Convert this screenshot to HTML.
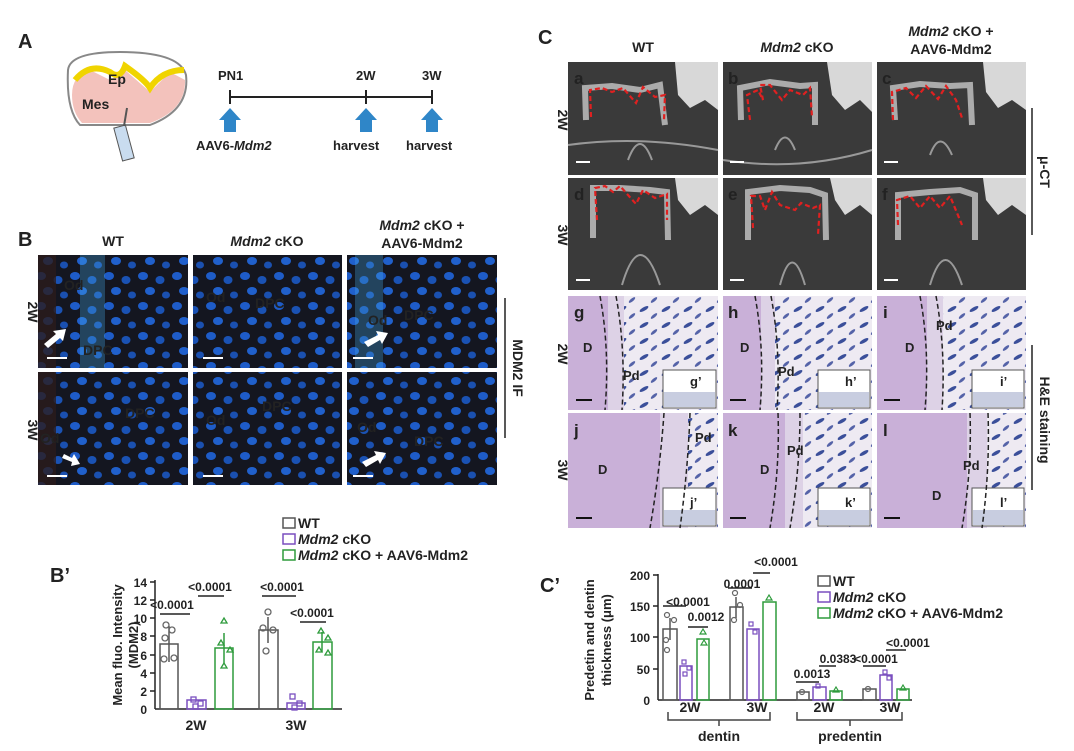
<!DOCTYPE html>
<html><head><meta charset="utf-8"><style>
body{margin:0;background:#fff;width:1074px;height:751px;overflow:hidden}
svg{position:absolute;left:0;top:0}
text{font-family:"Liberation Sans",Arial,sans-serif;font-weight:bold;fill:#222}
</style></head><body>
<svg width="1074" height="751" viewBox="0 0 1074 751">
<defs>
<pattern id="cells" width="34" height="30" patternUnits="userSpaceOnUse">
<rect width="34" height="30" fill="#141620"/>
<ellipse cx="7" cy="6" rx="5" ry="4" fill="#1e5cc8"/><ellipse cx="24" cy="10" rx="4.5" ry="4" fill="#1a52b4"/><ellipse cx="14" cy="21" rx="5" ry="4" fill="#2060cc"/><ellipse cx="30" cy="25" rx="4" ry="3.5" fill="#1a50b0"/>
</pattern>
<pattern id="he" width="22" height="16" patternUnits="userSpaceOnUse"><rect width="22" height="16" fill="#eeeaf2"/><ellipse cx="6" cy="5" rx="5" ry="1.8" fill="#3b4f9a" transform="rotate(-30 6 5)"/><ellipse cx="16" cy="12" rx="4" ry="1.5" fill="#5563a8" transform="rotate(-40 16 12)"/></pattern>
</defs>

<!-- Panel A -->
<text x="18" y="48" font-size="20">A</text>
<path d="M68 70 Q70 52 120 52 Q180 52 186 75 Q190 110 150 125 L80 125 Q66 110 68 70Z" fill="#fff" stroke="#888" stroke-width="2"/>
<path d="M72 95 Q72 75 90 70 L110 80 L125 70 L150 92 L170 72 L185 80 Q186 110 150 123 L82 123 Q72 112 72 95Z" fill="#f3c2bc"/>
<path d="M75 80 Q90 62 110 72 Q120 80 125 66 Q145 80 150 88 Q162 70 184 70" fill="none" stroke="#f0d400" stroke-width="6"/>
<text x="108" y="84" font-size="14">Ep</text><text x="82" y="109" font-size="14">Mes</text>
<rect x="118" y="126" width="12" height="34" fill="#c9dcef" stroke="#555" transform="rotate(-15 124 143)"/>
<line x1="127" y1="108" x2="124" y2="126" stroke="#555" stroke-width="2"/>
<line x1="230" y1="97" x2="432" y2="97" stroke="#222" stroke-width="2"/>
<line x1="230" y1="90" x2="230" y2="104" stroke="#222" stroke-width="2"/><line x1="366" y1="90" x2="366" y2="104" stroke="#222" stroke-width="2"/><line x1="432" y1="90" x2="432" y2="104" stroke="#222" stroke-width="2"/>
<text x="218" y="80" font-size="13">PN1</text><text x="356" y="80" font-size="13">2W</text><text x="422" y="80" font-size="13">3W</text>
<g fill="#2f86c8"><path d="M224 132 L224 120 L219 120 L230 108 L241 120 L236 120 L236 132Z"/><path d="M360 132 L360 120 L355 120 L366 108 L377 120 L372 120 L372 132Z"/><path d="M426 132 L426 120 L421 120 L432 108 L443 120 L438 120 L438 132Z"/></g>
<text x="196" y="150" font-size="13">AAV6-<tspan font-style="italic">Mdm2</tspan></text>
<text x="333" y="150" font-size="13">harvest</text><text x="406" y="150" font-size="13">harvest</text>

<!-- Panel B -->
<text x="18" y="246" font-size="20">B</text>
<text x="113" y="246" font-size="14" text-anchor="middle">WT</text>
<text x="267" y="246" font-size="14" text-anchor="middle"><tspan font-style="italic">Mdm2</tspan> cKO</text>
<text x="422" y="230" font-size="14" text-anchor="middle"><tspan font-style="italic">Mdm2</tspan> cKO +</text>
<text x="422" y="248" font-size="14" text-anchor="middle">AAV6-Mdm2</text>
<g>
<rect x="38" y="255" width="150" height="113" fill="url(#cells)"/><rect x="193" y="255" width="149" height="113" fill="url(#cells)"/><rect x="347" y="255" width="150" height="113" fill="url(#cells)"/>
<rect x="38" y="372" width="150" height="113" fill="url(#cells)"/><rect x="193" y="372" width="149" height="113" fill="url(#cells)"/><rect x="347" y="372" width="150" height="113" fill="url(#cells)"/>
<rect x="38" y="255" width="18" height="113" fill="#2a1c1c" opacity=".8"/><rect x="38" y="372" width="18" height="113" fill="#2a1c1c" opacity=".8"/>
<rect x="80" y="255" width="25" height="113" fill="#4ab0f0" opacity=".3"/><rect x="355" y="255" width="28" height="113" fill="#4ab0f0" opacity=".3"/>
</g>
<g fill="#fff" font-size="14">
<text x="64" y="290">Od</text><text x="83" y="355">DPC</text><text x="206" y="302">Od</text><text x="255" y="308">DPC</text><text x="368" y="325">Od</text><text x="404" y="320">DPC</text>
<text x="125" y="418">DPC</text><text x="40" y="443">Od</text><text x="262" y="411">DPC</text><text x="206" y="425">Od</text><text x="357" y="432">Od</text><text x="414" y="446">DPC</text>
</g>
<g fill="#fff"><path d="M44 344 L56 334 L53 331 L66 329 L63 341 L60 338 L48 348Z"/><path d="M364 342 L378 335 L376 331 L388 333 L382 344 L380 340 L368 347Z"/><path d="M62 458 L72 462 L71 466 L80 464 L74 454 L72 458 L64 454Z"/><path d="M362 462 L376 455 L374 451 L386 453 L380 464 L378 460 L366 467Z"/></g>
<g stroke="#fff" stroke-width="2"><line x1="47" y1="358" x2="67" y2="358"/><line x1="203" y1="358" x2="223" y2="358"/><line x1="353" y1="358" x2="373" y2="358"/><line x1="47" y1="476" x2="67" y2="476"/><line x1="203" y1="476" x2="223" y2="476"/><line x1="353" y1="476" x2="373" y2="476"/></g>
<text x="28" y="312" font-size="14" transform="rotate(90 28 312)" text-anchor="middle">2W</text>
<text x="28" y="430" font-size="14" transform="rotate(90 28 430)" text-anchor="middle">3W</text>
<line x1="505" y1="298" x2="505" y2="438" stroke="#222" stroke-width="1.5"/>
<text x="513" y="368" font-size="14" transform="rotate(90 513 368)" text-anchor="middle">MDM2 IF</text>

<!-- Panel B' chart -->
<text x="50" y="582" font-size="20">B’</text>
<g font-size="14"><rect x="283" y="518" width="12" height="10" fill="none" stroke="#555" stroke-width="1.5"/><text x="298" y="528">WT</text>
<rect x="283" y="534" width="12" height="10" fill="none" stroke="#7a4fbf" stroke-width="1.5"/><text x="298" y="544"><tspan font-style="italic">Mdm2</tspan> cKO</text>
<rect x="283" y="550" width="12" height="10" fill="none" stroke="#2e9b3c" stroke-width="1.5"/><text x="298" y="560"><tspan font-style="italic">Mdm2</tspan> cKO + AAV6-Mdm2</text></g>
<g stroke="#222" stroke-width="1.5" fill="none"><line x1="155" y1="580" x2="155" y2="709"/><line x1="155" y1="709" x2="342" y2="709"/>
<line x1="150" y1="582" x2="155" y2="582"/><line x1="150" y1="600" x2="155" y2="600"/><line x1="150" y1="618" x2="155" y2="618"/><line x1="150" y1="636" x2="155" y2="636"/><line x1="150" y1="655" x2="155" y2="655"/><line x1="150" y1="673" x2="155" y2="673"/><line x1="150" y1="691" x2="155" y2="691"/></g>
<g font-size="12" text-anchor="end"><text x="147" y="587">14</text><text x="147" y="605">12</text><text x="147" y="623">10</text><text x="147" y="641">8</text><text x="147" y="660">6</text><text x="147" y="678">4</text><text x="147" y="696">2</text><text x="147" y="714">0</text></g>
<text x="122" y="645" font-size="13" text-anchor="middle" transform="rotate(-90 122 645)">Mean fluo. Intensity</text>
<text x="138" y="645" font-size="13" text-anchor="middle" transform="rotate(-90 138 645)">(MDM2)</text>
<g stroke-width="1.5" fill="none">
<rect x="160" y="644" width="18" height="65" stroke="#555"/><rect x="187" y="700" width="19" height="9" stroke="#7a4fbf"/><rect x="215" y="648" width="18" height="61" stroke="#2e9b3c"/>
<rect x="259" y="630" width="19" height="79" stroke="#555"/><rect x="287" y="703" width="18" height="6" stroke="#7a4fbf"/><rect x="313" y="642" width="19" height="67" stroke="#2e9b3c"/>
<line x1="169" y1="626" x2="169" y2="662" stroke="#555"/><line x1="224" y1="633" x2="224" y2="663" stroke="#2e9b3c"/><line x1="268" y1="617" x2="268" y2="643" stroke="#555"/><line x1="322" y1="632" x2="322" y2="652" stroke="#2e9b3c"/>
<line x1="160" y1="614" x2="190" y2="614" stroke="#222"/><line x1="198" y1="596" x2="224" y2="596" stroke="#222"/><line x1="262" y1="596" x2="296" y2="596" stroke="#222"/><line x1="300" y1="622" x2="326" y2="622" stroke="#222"/>
</g>
<g fill="none" stroke-width="1.3">
<g stroke="#666"><circle cx="166" cy="625" r="3"/><circle cx="172" cy="630" r="3"/><circle cx="165" cy="638" r="3"/><circle cx="174" cy="658" r="3"/><circle cx="164" cy="659" r="3"/><circle cx="268" cy="612" r="3"/><circle cx="263" cy="628" r="3"/><circle cx="273" cy="630" r="3"/><circle cx="266" cy="651" r="3"/></g>
<g stroke="#7a4fbf"><rect x="191" y="697" width="5" height="5"/><rect x="198" y="701" width="5" height="5"/><rect x="193" y="704" width="5" height="5"/><rect x="290" y="694" width="5" height="5"/><rect x="297" y="701" width="5" height="5"/><rect x="292" y="705" width="5" height="5"/></g>
<g stroke="#2e9b3c"><path d="M221 623 l3 -5 l3 5z"/><path d="M218 645 l3 -5 l3 5z"/><path d="M227 652 l3 -5 l3 5z"/><path d="M221 668 l3 -5 l3 5z"/><path d="M318 633 l3 -5 l3 5z"/><path d="M325 640 l3 -5 l3 5z"/><path d="M316 652 l3 -5 l3 5z"/><path d="M325 655 l3 -5 l3 5z"/></g>
</g>
<g font-size="12" text-anchor="middle"><text x="172" y="609">&lt;0.0001</text><text x="210" y="591">&lt;0.0001</text><text x="282" y="591">&lt;0.0001</text><text x="312" y="617">&lt;0.0001</text></g>
<g font-size="14" text-anchor="middle"><text x="196" y="730">2W</text><text x="296" y="730">3W</text></g>

<!-- Panel C -->
<text x="538" y="44" font-size="20">C</text>
<text x="643" y="52" font-size="14" text-anchor="middle">WT</text>
<text x="797" y="52" font-size="14" text-anchor="middle"><tspan font-style="italic">Mdm2</tspan> cKO</text>
<text x="951" y="36" font-size="14" text-anchor="middle"><tspan font-style="italic">Mdm2</tspan> cKO +</text>
<text x="951" y="54" font-size="14" text-anchor="middle">AAV6-Mdm2</text>
<g fill="#3a3a3a">
<rect x="568" y="62" width="150" height="113"/><rect x="723" y="62" width="149" height="113"/><rect x="877" y="62" width="149" height="113"/>
<rect x="568" y="178" width="150" height="112"/><rect x="723" y="178" width="149" height="112"/><rect x="877" y="178" width="149" height="112"/>
</g>
<g fill="none" stroke="#b8b8b8" stroke-width="6" opacity=".9">
<path d="M586 120 L585 88 L612 86 L640 90 L660 85 L665 125"/><path d="M741 120 L740 88 L770 82 L800 86 L815 85 L815 125"/><path d="M895 120 L893 88 L920 84 L950 86 L970 85 L972 125"/>
<path d="M593 238 L593 188 L620 188 L650 190 L667 192 L668 240"/><path d="M748 240 L748 192 L780 188 L810 190 L825 195 L826 240"/><path d="M898 240 L898 195 L930 192 L960 190 L975 195 L975 240"/>
</g>
<g fill="#d8d8d8"><path d="M675 62 L718 62 L718 110 L705 100 L690 108 L678 95Z"/><path d="M827 62 L872 62 L872 112 L860 100 L845 110 L832 95Z"/><path d="M983 62 L1026 62 L1026 110 L1012 100 L998 108 L986 92Z"/>
<path d="M675 178 L718 178 L718 215 L705 205 L690 215 L678 200Z"/><path d="M830 178 L872 178 L872 215 L860 205 L845 215 L835 200Z"/><path d="M983 178 L1026 178 L1026 215 L1012 205 L998 215 L986 200Z"/></g>
<g fill="none" stroke="#999" stroke-width="2"><path d="M628 160 Q640 128 652 160"/><path d="M775 150 Q785 125 795 150"/><path d="M930 155 Q940 128 952 155"/><path d="M622 285 Q640 225 660 285"/><path d="M780 285 Q792 240 805 285"/><path d="M930 285 Q945 235 962 285"/><path d="M568 145 Q640 135 718 150"/><path d="M723 160 Q800 172 872 150"/></g>
<g stroke="#e02020" stroke-width="2.2" stroke-dasharray="5,3" fill="none">
<path d="M591 117 L590 90 L602 88 L612 92 L623 88 L636 103 L643 87 L655 97 L665 95 L664 120"/>
<path d="M750 120 L747 95 L758 90 L763 100 L760 85 L770 85 L782 100 L790 90 L803 95 L810 88 L812 117"/>
<path d="M893 120 L892 92 L906 88 L916 98 L926 86 L938 99 L946 86 L956 100 L962 118"/>
<path d="M597 220 L595 188 L605 186 L613 192 L620 186 L636 204 L643 190 L655 198 L667 194 L667 220"/>
<path d="M753 228 L751 196 L760 196 L765 210 L772 192 L780 205 L795 210 L801 203 L813 208 L820 205 L818 235"/>
<path d="M898 225 L897 200 L910 196 L920 208 L930 196 L940 208 L950 196 L962 225"/>
</g>
<g>
<rect x="568" y="296" width="150" height="114" fill="url(#he)"/><rect x="723" y="296" width="149" height="114" fill="url(#he)"/><rect x="877" y="296" width="149" height="114" fill="url(#he)"/>
<rect x="568" y="413" width="150" height="115" fill="url(#he)"/><rect x="723" y="413" width="149" height="115" fill="url(#he)"/><rect x="877" y="413" width="149" height="115" fill="url(#he)"/>
<g fill="#c9b0d8"><rect x="568" y="296" width="40" height="114"/><rect x="723" y="296" width="38" height="114"/><rect x="877" y="296" width="50" height="114"/><rect x="568" y="413" width="92" height="115"/><rect x="723" y="413" width="62" height="115"/><rect x="877" y="413" width="90" height="115"/></g>
<g fill="#ddd2e6"><rect x="608" y="296" width="16" height="114"/><rect x="761" y="296" width="14" height="114"/><rect x="927" y="296" width="16" height="114"/><rect x="660" y="413" width="28" height="115"/><rect x="785" y="413" width="18" height="115"/><rect x="967" y="413" width="20" height="115"/></g>
<g fill="#fff" stroke="#555"><rect x="663" y="370" width="53" height="38"/><rect x="818" y="370" width="52" height="38"/><rect x="972" y="370" width="52" height="38"/><rect x="663" y="488" width="53" height="38"/><rect x="818" y="488" width="52" height="38"/><rect x="972" y="488" width="52" height="38"/></g>
<g fill="#c8cde0"><rect x="664" y="392" width="51" height="15"/><rect x="819" y="392" width="50" height="15"/><rect x="973" y="392" width="50" height="15"/><rect x="664" y="510" width="51" height="15"/><rect x="819" y="510" width="50" height="15"/><rect x="973" y="510" width="50" height="15"/></g>
</g>
<g stroke="#222" stroke-width="1.5" stroke-dasharray="5,3" fill="none">
<path d="M600 296 Q610 350 605 410"/><path d="M616 296 Q626 350 622 410"/><path d="M755 296 Q765 350 760 410"/><path d="M771 296 Q781 350 777 410"/><path d="M920 296 Q930 350 925 410"/><path d="M936 296 Q946 350 942 410"/>
<path d="M664 413 Q660 470 650 528"/><path d="M690 413 Q688 470 680 528"/><path d="M778 413 Q780 470 770 528"/><path d="M800 413 Q800 470 790 528"/><path d="M970 413 Q972 470 962 528"/><path d="M988 413 Q990 470 982 528"/>
</g>
<g fill="#fff" font-size="17"><text x="574" y="84">a</text><text x="728" y="84">b</text><text x="882" y="84">c</text><text x="574" y="200">d</text><text x="728" y="200">e</text><text x="882" y="200">f</text></g>
<g font-size="17"><text x="574" y="318">g</text><text x="728" y="318">h</text><text x="883" y="318">i</text><text x="574" y="436">j</text><text x="728" y="436">k</text><text x="883" y="436">l</text></g>
<g font-size="13"><text x="583" y="352">D</text><text x="623" y="380">Pd</text><text x="740" y="352">D</text><text x="778" y="376">Pd</text><text x="905" y="352">D</text><text x="936" y="330">Pd</text>
<text x="598" y="474">D</text><text x="695" y="442">Pd</text><text x="760" y="474">D</text><text x="787" y="455">Pd</text><text x="932" y="500">D</text><text x="963" y="470">Pd</text>
<text x="690" y="386">g’</text><text x="845" y="386">h’</text><text x="1000" y="386">i’</text><text x="690" y="507">j’</text><text x="845" y="507">k’</text><text x="1000" y="507">l’</text></g>
<g stroke-width="2"><g stroke="#fff"><line x1="576" y1="162" x2="590" y2="162"/><line x1="730" y1="162" x2="744" y2="162"/><line x1="884" y1="162" x2="898" y2="162"/><line x1="576" y1="280" x2="590" y2="280"/><line x1="730" y1="280" x2="744" y2="280"/><line x1="884" y1="280" x2="898" y2="280"/></g>
<g stroke="#111"><line x1="576" y1="400" x2="592" y2="400"/><line x1="730" y1="400" x2="746" y2="400"/><line x1="884" y1="400" x2="900" y2="400"/><line x1="576" y1="518" x2="592" y2="518"/><line x1="730" y1="518" x2="746" y2="518"/><line x1="884" y1="518" x2="900" y2="518"/></g></g>
<text x="558" y="120" font-size="14" transform="rotate(90 558 120)" text-anchor="middle">2W</text>
<text x="558" y="235" font-size="14" transform="rotate(90 558 235)" text-anchor="middle">3W</text>
<text x="558" y="354" font-size="14" transform="rotate(90 558 354)" text-anchor="middle">2W</text>
<text x="558" y="470" font-size="14" transform="rotate(90 558 470)" text-anchor="middle">3W</text>
<line x1="1032" y1="108" x2="1032" y2="235" stroke="#222" stroke-width="1.5"/>
<text x="1040" y="172" font-size="14" transform="rotate(90 1040 172)" text-anchor="middle">μ-CT</text>
<line x1="1032" y1="345" x2="1032" y2="490" stroke="#222" stroke-width="1.5"/>
<text x="1040" y="420" font-size="14" transform="rotate(90 1040 420)" text-anchor="middle">H&amp;E staining</text>

<!-- Panel C' chart -->
<text x="540" y="592" font-size="20">C’</text>
<g font-size="14"><rect x="818" y="576" width="12" height="10" fill="none" stroke="#555" stroke-width="1.5"/><text x="833" y="586">WT</text>
<rect x="818" y="592" width="12" height="10" fill="none" stroke="#7a4fbf" stroke-width="1.5"/><text x="833" y="602"><tspan font-style="italic">Mdm2</tspan> cKO</text>
<rect x="818" y="608" width="12" height="10" fill="none" stroke="#2e9b3c" stroke-width="1.5"/><text x="833" y="618"><tspan font-style="italic">Mdm2</tspan> cKO + AAV6-Mdm2</text></g>
<g stroke="#222" stroke-width="1.5" fill="none"><line x1="658" y1="574" x2="658" y2="700"/><line x1="658" y1="700" x2="912" y2="700"/>
<line x1="653" y1="575" x2="658" y2="575"/><line x1="653" y1="606" x2="658" y2="606"/><line x1="653" y1="637" x2="658" y2="637"/><line x1="653" y1="669" x2="658" y2="669"/></g>
<g font-size="12" text-anchor="end"><text x="650" y="580">200</text><text x="650" y="611">150</text><text x="650" y="642">100</text><text x="650" y="674">50</text><text x="650" y="705">0</text></g>
<text x="594" y="640" font-size="13" text-anchor="middle" transform="rotate(-90 594 640)">Predetin and dentin</text>
<text x="611" y="640" font-size="13" text-anchor="middle" transform="rotate(-90 611 640)">thickness (μm)</text>
<g stroke-width="1.5" fill="none">
<rect x="663" y="629" width="14" height="71" stroke="#555"/><rect x="680" y="666" width="12" height="34" stroke="#7a4fbf"/><rect x="697" y="639" width="12" height="61" stroke="#2e9b3c"/>
<rect x="730" y="607" width="13" height="93" stroke="#555"/><rect x="747" y="629" width="12" height="71" stroke="#7a4fbf"/><rect x="763" y="602" width="13" height="98" stroke="#2e9b3c"/>
<rect x="797" y="692" width="12" height="8" stroke="#555"/><rect x="813" y="687" width="13" height="13" stroke="#7a4fbf"/><rect x="830" y="691" width="12" height="9" stroke="#2e9b3c"/>
<rect x="863" y="689" width="13" height="11" stroke="#555"/><rect x="880" y="675" width="12" height="25" stroke="#7a4fbf"/><rect x="897" y="689" width="12" height="11" stroke="#2e9b3c"/>
<line x1="670" y1="618" x2="670" y2="640" stroke="#555"/><line x1="736" y1="597" x2="736" y2="618" stroke="#555"/>
<line x1="663" y1="606" x2="686" y2="606" stroke="#222"/><line x1="688" y1="627" x2="708" y2="627" stroke="#222"/><line x1="728" y1="588" x2="752" y2="588" stroke="#222"/><line x1="753" y1="573" x2="770" y2="573" stroke="#222"/>
<line x1="796" y1="682" x2="819" y2="682" stroke="#222"/><line x1="819" y1="666" x2="836" y2="666" stroke="#222"/><line x1="863" y1="666" x2="886" y2="666" stroke="#222"/><line x1="886" y1="650" x2="906" y2="650" stroke="#222"/>
<path d="M668 712 L668 720 L770 720 L770 712 M719 720 L719 726" stroke="#444"/><path d="M797 712 L797 720 L902 720 L902 712 M850 720 L850 726" stroke="#444"/>
</g>
<g fill="none" stroke-width="1.2">
<g stroke="#666"><circle cx="667" cy="615" r="2.5"/><circle cx="674" cy="620" r="2.5"/><circle cx="666" cy="640" r="2.5"/><circle cx="667" cy="650" r="2.5"/><circle cx="735" cy="593" r="2.5"/><circle cx="740" cy="605" r="2.5"/><circle cx="734" cy="620" r="2.5"/><circle cx="802" cy="692" r="2.5"/><circle cx="868" cy="689" r="2.5"/></g>
<g stroke="#7a4fbf"><rect x="682" y="660" width="4" height="4"/><rect x="687" y="666" width="4" height="4"/><rect x="683" y="672" width="4" height="4"/><rect x="749" y="622" width="4" height="4"/><rect x="753" y="630" width="4" height="4"/><rect x="816" y="684" width="4" height="4"/><rect x="883" y="670" width="4" height="4"/><rect x="887" y="676" width="4" height="4"/></g>
<g stroke="#2e9b3c"><path d="M700 634 l3 -5 l3 5z"/><path d="M701 645 l3 -5 l3 5z"/><path d="M766 600 l3 -5 l3 5z"/><path d="M833 692 l3 -5 l3 5z"/><path d="M900 690 l3 -5 l3 5z"/></g>
</g>
<g font-size="12" text-anchor="middle"><text x="688" y="606">&lt;0.0001</text><text x="706" y="621">0.0012</text><text x="742" y="588">0.0001</text><text x="776" y="566">&lt;0.0001</text>
<text x="812" y="678">0.0013</text><text x="838" y="663">0.0383</text><text x="876" y="663">&lt;0.0001</text><text x="908" y="647">&lt;0.0001</text></g>
<g font-size="14" text-anchor="middle"><text x="690" y="712">2W</text><text x="757" y="712">3W</text><text x="824" y="712">2W</text><text x="890" y="712">3W</text><text x="719" y="741">dentin</text><text x="850" y="741">predentin</text></g>
</svg>
</body></html>
